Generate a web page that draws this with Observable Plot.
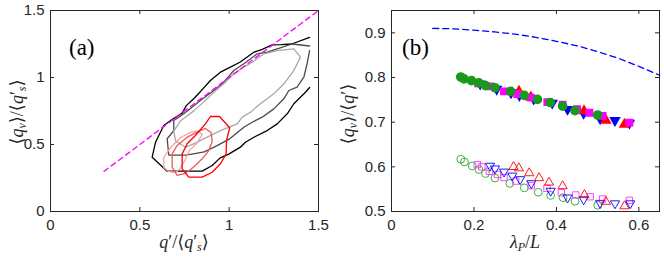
<!DOCTYPE html>
<html><head><meta charset="utf-8">
<script src="https://cdn.jsdelivr.net/npm/d3@7"></script>
<script src="https://cdn.jsdelivr.net/npm/@observablehq/plot@0.6"></script>
<style>
body{margin:0;background:#fff;}
#wrap{display:flex;width:664px;height:260px;overflow:hidden;}
.panel{position:relative;width:332px;height:260px;}
.panel svg{position:absolute;left:0;top:0;}
.lab{position:absolute;font-family:"Liberation Serif","DejaVu Serif",serif;color:#262626;white-space:nowrap;transform:translate(-50%,-50%);font-size:18px;line-height:1;}
.rot{transform:translate(-50%,-50%) rotate(-90deg);}
.tag{position:absolute;font-family:"Liberation Serif","DejaVu Serif",serif;color:#000;font-size:23px;line-height:1;transform:translate(0,-50%);}
sub{font-size:12px;vertical-align:-3px;}
</style>
</head><body>
<div id="wrap">
  <div class="panel" id="pa">
    <div class="tag" style="left:69px;top:47px">(a)</div>
    <div class="lab" style="left:184px;top:243px"><i>q</i>′/⟨<i>q</i>′<sub><i>s</i></sub>⟩</div>
    <div class="lab rot" style="left:18px;top:112px">⟨<i>q</i><sub><i>v</i></sub>⟩/⟨<i>q</i>′<sub><i>s</i></sub>⟩</div>
  </div>
  <div class="panel" id="pb">
    <div class="tag" style="left:70px;top:47px">(b)</div>
    <div class="lab" style="left:193px;top:243px"><i>λ</i><sub><i>P</i></sub>/<i>L</i></div>
    <div class="lab rot" style="left:17px;top:114px">⟨<i>q</i><sub><i>v</i></sub>⟩/⟨<i>q</i>′⟩</div>
  </div>
</div>
<script>
// ---------- Panel (a) data ----------
const aTicks = [0, 0.5, 1, 1.5];
const diagX = [0.3, 1.5];
const diagY = [0.3, 1.5];
const contourBlack = [[1.45,1.30],[1.35,1.25],[1.29,1.245],[1.24,1.244],[1.185,1.21],[1.14,1.19],[1.06,1.114],[1.007,1.077],[0.951,1.04],[0.895,0.978],[0.84,0.896],[0.8,0.84],[0.76,0.79],[0.737,0.734],[0.672,0.679],[0.634,0.642],[0.588,0.517],[0.569,0.405],[0.653,0.301],[0.849,0.301],[0.905,0.343],[0.95,0.40],[1.0,0.43],[1.063,0.48],[1.091,0.517],[1.138,0.554],[1.213,0.604],[1.269,0.654],[1.325,0.729],[1.362,0.804],[1.427,0.89],[1.45,0.925]];
const contourDark = [[1.45,1.235],[1.352,1.25],[1.269,1.214],[1.213,1.189],[1.157,1.177],[1.082,1.102],[1.026,1.052],[0.97,0.965],[0.914,0.903],[0.839,0.828],[0.746,0.729],[0.69,0.679],[0.69,0.604],[0.653,0.543],[0.662,0.42],[0.755,0.42],[0.80,0.43],[0.86,0.445],[0.93,0.49],[1.0,0.54],[1.082,0.629],[1.129,0.666],[1.185,0.704],[1.25,0.766],[1.306,0.841],[1.334,0.903],[1.38,0.928],[1.418,1.002],[1.436,1.102],[1.45,1.2]];
const contourLight = [[0.914,0.89],[0.97,0.953],[1.026,1.027],[1.082,1.077],[1.129,1.114],[1.194,1.177],[1.269,1.201],[1.362,1.214],[1.399,1.152],[1.362,1.052],[1.306,0.953],[1.25,0.878],[1.175,0.804],[1.119,0.741],[1.073,0.704],[1.045,0.654],[0.951,0.604],[0.877,0.555],[0.802,0.505],[0.755,0.48],[0.70,0.527],[0.69,0.60],[0.728,0.677],[0.802,0.751],[0.86,0.82],[0.914,0.89]];
const contourRed = [[0.895,0.709],[0.946,0.709],[1.003,0.625],[0.985,0.53],[0.983,0.43],[0.951,0.356],[0.905,0.293],[0.849,0.256],[0.774,0.256],[0.737,0.318],[0.737,0.43],[0.765,0.505],[0.811,0.567],[0.867,0.654],[0.895,0.709]];
const contourMid = [[0.709,0.27],[0.681,0.331],[0.681,0.43],[0.709,0.493],[0.765,0.555],[0.821,0.592],[0.867,0.62],[0.899,0.59],[0.905,0.52],[0.886,0.455],[0.849,0.393],[0.80,0.33],[0.756,0.285],[0.709,0.27]];
const contourPink = [[0.634,0.328],[0.634,0.403],[0.672,0.478],[0.728,0.552],[0.784,0.59],[0.825,0.602],[0.849,0.575],[0.82,0.51],[0.78,0.46],[0.755,0.39],[0.725,0.32],[0.70,0.291],[0.66,0.30],[0.634,0.328]];

// ---------- Panel (b) data ----------
const bxTicks = [0, 0.2, 0.4, 0.6];
const byTicks = [0.5, 0.6, 0.7, 0.8, 0.9];
const dashX = [0.1,0.15,0.2,0.25,0.3,0.35,0.4,0.45,0.5,0.55,0.6,0.65];
const dashY = [0.910,0.909,0.906,0.902,0.897,0.89,0.881,0.871,0.858,0.843,0.825,0.805];
const gFillX = [0.168,0.176,0.194,0.212,0.228,0.251,0.289,0.322,0.354,0.385,0.415,0.445,0.50];
const gFillY = [0.801,0.797,0.793,0.788,0.782,0.777,0.769,0.760,0.751,0.744,0.736,0.726,0.716];
const mFillX = [0.21,0.24,0.273,0.305,0.338,0.378,0.415,0.45,0.48,0.512,0.577];
const mFillY = [0.787,0.780,0.769,0.763,0.755,0.745,0.739,0.729,0.721,0.714,0.699];
const bFillX = [0.215,0.255,0.29,0.31,0.345,0.39,0.427,0.466,0.506,0.542,0.577];
const bFillY = [0.786,0.774,0.766,0.760,0.752,0.743,0.729,0.720,0.708,0.704,0.698];
const rFillX = [0.309,0.338,0.467,0.52,0.565];
const rFillY = [0.769,0.756,0.725,0.704,0.695];
const gOpenX = [0.168,0.177,0.196,0.212,0.228,0.251,0.287,0.322,0.356,0.386,0.416,0.445,0.50];
const gOpenY = [0.617,0.611,0.602,0.594,0.585,0.575,0.563,0.553,0.543,0.536,0.531,0.523,0.514];
const mOpenX = [0.208,0.219,0.237,0.257,0.273,0.301,0.339,0.377,0.412,0.447,0.482,0.512,0.577];
const mOpenY = [0.605,0.600,0.590,0.583,0.576,0.568,0.558,0.552,0.542,0.537,0.533,0.528,0.525];
const bOpenX = [0.239,0.251,0.273,0.293,0.312,0.339,0.386,0.427,0.466,0.506,0.542,0.579];
const bOpenY = [0.602,0.596,0.589,0.580,0.572,0.563,0.546,0.531,0.527,0.519,0.518,0.518];
const rOpenX = [0.296,0.309,0.334,0.358,0.382,0.415,0.468,0.52,0.565];
const rOpenY = [0.600,0.597,0.586,0.575,0.565,0.557,0.537,0.522,0.512];

const zip = (xs, ys) => xs.map((x, i) => [x, ys[i]]);
const AX = "#262626";
const FONT = "'Liberation Sans', Arial, sans-serif";
const TICKFONT = 15;

function inward(xt, yt, W, H, len) {
  return [
    Plot.tickX(xt, {x: d => d, insetTop: H - len, stroke: AX}),
    Plot.tickX(xt, {x: d => d, insetBottom: H - len, stroke: AX}),
    Plot.tickY(yt, {y: d => d, insetRight: W - len, stroke: AX}),
    Plot.tickY(yt, {y: d => d, insetLeft: W - len, stroke: AX})
  ];
}
function axes(xt, yt) {
  return [
    Plot.axisX({ticks: xt, tickSize: 0, tickPadding: 8, label: null, fontSize: TICKFONT, fill: AX, tickFormat: d => String(d)}),
    Plot.axisY({ticks: yt, tickSize: 0, tickPadding: 6, label: null, fontSize: TICKFONT, fill: AX, tickFormat: d => String(d)})
  ];
}

const W = 268, H = 201;
const common = {width: 332, height: 260, marginTop: 10, marginBottom: 49,
  style: {fontFamily: FONT, fontSize: TICKFONT + "px", color: AX, background: "transparent", overflow: "visible"}};

const cStroke = {strokeWidth: 1.3, strokeLinejoin: "round"};
const plotA = Plot.plot({
  ...common, marginLeft: 50, marginRight: 14,
  x: {domain: [0, 1.5]}, y: {domain: [0, 1.5]},
  marks: [
    Plot.line(contourBlack, {...cStroke, stroke: "#000"}),
    Plot.line(contourDark, {...cStroke, stroke: "#4a4a4a"}),
    Plot.line(contourLight, {...cStroke, stroke: "#a8a8a8"}),
    Plot.line(contourPink, {...cStroke, stroke: "#f7a3a3"}),
    Plot.line(contourMid, {...cStroke, stroke: "#f05a5a"}),
    Plot.line(contourRed, {...cStroke, stroke: "#ff0000"}),
    Plot.line(zip(diagX, diagY), {stroke: "#ff00ff", strokeWidth: 1.4, strokeDasharray: "5,4"}),
    Plot.frame({stroke: AX}),
    ...inward(aTicks, aTicks, W, H, 4),
    ...axes(aTicks, aTicks)
  ]
});

const mk = (xs, ys, o) => Plot.dot(zip(xs, ys), {x: d => d[0], y: d => d[1], ...o});
const plotB = Plot.plot({
  ...common, marginLeft: 59, marginRight: 5,
  x: {domain: [0, 0.65]}, y: {domain: [0.5, 0.95]},
  marks: [
    Plot.line(zip(dashX, dashY), {stroke: "#0000ff", strokeWidth: 1.3, strokeDasharray: "6,4"}),
    mk(gOpenX, gOpenY, {symbol: "circle", r: 3.9, stroke: "#22aa22", strokeWidth: 0.9, fill: "none"}),
    mk(mOpenX, mOpenY, {symbol: "square", r: 3.6, stroke: "#ff33ff", strokeWidth: 0.9, fill: "none"}),
    mk(bOpenX, bOpenY, {symbol: "triangle", rotate: 180, r: 3.4, stroke: "#0000ff", strokeWidth: 0.9, fill: "none"}),
    mk(rOpenX, rOpenY, {symbol: "triangle", r: 3.4, stroke: "#ff0000", strokeWidth: 0.9, fill: "none"}),
    mk(bFillX, bFillY, {symbol: "triangle", rotate: 180, r: 3.3, fill: "#0000ff", stroke: "#0000ff"}),
    mk(rFillX, rFillY, {symbol: "triangle", r: 3.3, fill: "#ff0000", stroke: "#ff0000"}),
    mk(mFillX, mFillY, {symbol: "square", r: 3.6, fill: "#ff00ff", stroke: "#ff00ff"}),
    mk(gFillX, gFillY, {symbol: "circle", r: 4.1, fill: "#1a9a1a", stroke: "#1a9a1a"}),
    Plot.frame({stroke: AX}),
    ...inward(bxTicks, byTicks, W, H, 4),
    ...axes(bxTicks, byTicks)
  ]
});

document.getElementById("pa").prepend(plotA);
document.getElementById("pb").prepend(plotB);
</script>
</body></html>
